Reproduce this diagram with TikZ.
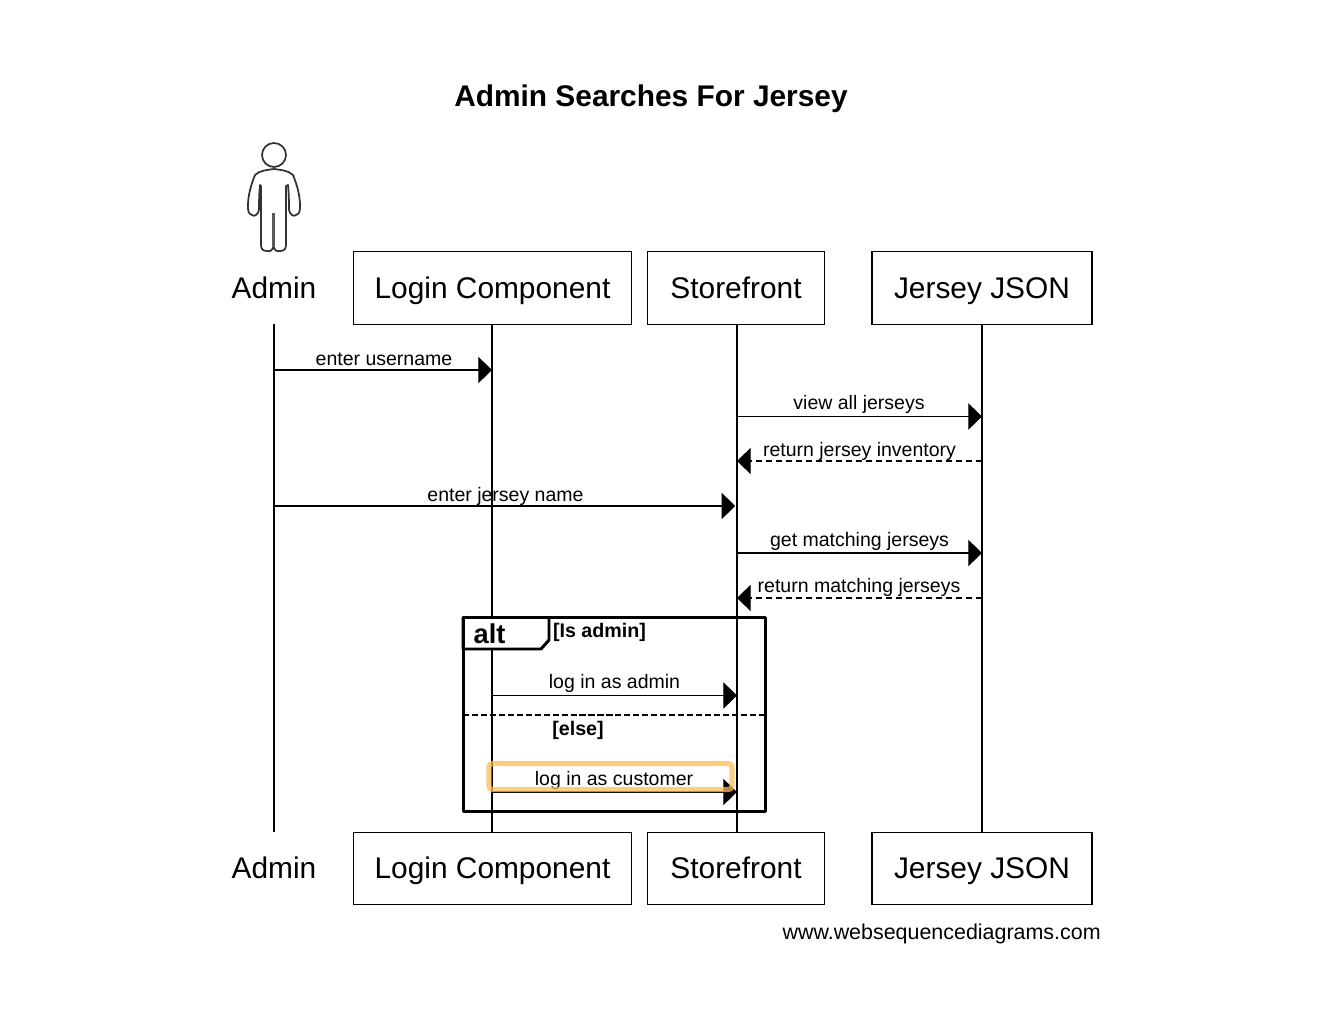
\documentclass[tikz,border=0pt]{standalone}
\usepackage{fontspec}
\setmainfont{Liberation Sans}
\usetikzlibrary{arrows.meta}
\definecolor{hilite}{HTML}{FDBE55}
\tikzset{
  party/.style = {draw, line width=0.7pt, minimum height=41.4pt, inner sep=0pt, text height=13pt, text depth=1.2pt, font=\fontsize{17}{20}\selectfont},
  bare/.style = {inner sep=0pt, text height=13pt, text depth=1.2pt, font=\fontsize{17}{20}\selectfont},
  life/.style = {line width=0.7pt},
  msg/.style = {line width=0.7pt, -{Triangle[length=7.8pt,width=15pt]}},
  back/.style = {msg, dashed, dash pattern=on 3.4pt off 2.3pt},
  lbl/.style = {inner sep=0pt, font=\fontsize{11.1}{13}\selectfont},
  frm/.style = {line width=1.7pt},
  cond/.style = {inner sep=0pt, font=\bfseries\fontsize{11.2}{12}\selectfont}
}
\begin{document}
\begin{tikzpicture}[x=0.02cm, y=-0.02cm]
\useasboundingbox (0,0) rectangle (1322,1020);
\node [inner sep=0pt, font=\bfseries\fontsize{17}{20}\selectfont] (title) at (651,99) {Admin Searches For Jersey};
% actor
\draw [line width=1pt, black!80] (274,155) circle [radius=12];
\draw [line width=1pt, black!80, line join=round] (273.5,246)
  .. controls (273,250) and (270,252) .. (267,251)
  .. controls (263,251) and (261,249) .. (261,245)
  -- (261,186) -- (260,185)
  .. controls (259,195) and (259,205) .. (259,210)
  .. controls (258,215) and (254,217) .. (252,215)
  .. controls (248,214) and (248,210) .. (248,206)
  .. controls (248,195) and (251,185) .. (255,175)
  .. controls (260,170) and (268,170) .. (274,169)
  .. controls (280,170) and (288,170) .. (293,175)
  .. controls (297,185) and (300,195) .. (300,206)
  .. controls (300,210) and (300,214) .. (296,215)
  .. controls (294,217) and (290,215) .. (289,210)
  .. controls (289,205) and (289,195) .. (288,185)
  -- (286,186) -- (286,245)
  .. controls (286,249) and (284,251) .. (280,251)
  .. controls (277,252) and (274,250) .. (273.5,246);
\draw [line width=1.6pt, black!65] (273.5,213) -- (273.5,246);
% top row
\node [bare] (adminT) at (274,288) {Admin};
\node [party, minimum width=158.1pt] (loginT) at (492.5,288) {Login Component};
\node [party, minimum width=100.9pt] (storeT) at (736,288) {Storefront};
\node [party, minimum width=125.3pt] (jerseyT) at (982,288) {Jersey JSON};
% bottom row
\node [bare] (adminB) at (274,868.500) {Admin};
\node [party, minimum width=158.1pt] (loginB) at (492.5,868.500) {Login Component};
\node [party, minimum width=100.9pt] (storeB) at (736,868.500) {Storefront};
\node [party, minimum width=125.3pt] (jerseyB) at (982,868.500) {Jersey JSON};
\coordinate (adminTop) at (274,324.500);
\coordinate (adminEnd) at (274,832);
\coordinate (loginTop) at (492,324.500);
\coordinate (loginEnd) at (492,832);
\coordinate (storeTop) at (737,324.500);
\coordinate (storeEnd) at (737,832);
\coordinate (jerseyTop) at (982,324.500);
\coordinate (jerseyEnd) at (982,832);
\draw [life] (adminTop) -- (adminEnd);
\draw [life] (loginTop) -- (loginEnd);
\draw [life] (storeTop) -- (storeEnd);
\draw [life] (jerseyTop) -- (jerseyEnd);
% messages
\draw [msg] (adminTop |- 0,370) -- (loginTop |- 0,370);
\node [lbl] (m1) at (384,359) {enter username};
\draw [msg] (storeTop |- 0,416.500) -- (jerseyTop |- 0,416.500);
\node [lbl] (m2) at (859,404) {view all jerseys};
\draw [back] (jerseyTop |- 0,461) -- (storeTop |- 0,461);
\node [lbl] (m3) at (859.500,451) {return jersey inventory};
\draw [msg] (adminTop |- 0,506) -- ([xshift=-1pt]storeTop |- 0,506);
\node [lbl] (m4) at (505.500,496) {enter jersey name};
\draw [msg] (storeTop |- 0,553) -- (jerseyTop |- 0,553);
\node [lbl] (m5) at (859.500,541) {get matching jerseys};
\draw [back] (jerseyTop |- 0,598) -- (storeTop |- 0,598);
\node [lbl] (m6) at (859,587.500) {return matching jerseys};
% alt frame
\coordinate (tabA) at (549,617.500);
\coordinate (tabB) at (549,640);
\coordinate (tabC) at (541,649);
\coordinate (tabD) at (463,649);
\coordinate (tabE) at (463,617.500);
\draw [frm, line join=round, fill=white] (tabE) -- (tabA) -- (tabB) -- (tabC) -- (tabD) -- cycle;
\draw [frm, line join=round] (463.500,617.500) rectangle (765.500,811.500);
\node [inner sep=0pt, font=\bfseries\fontsize{15.5}{17}\selectfont] (alt) at (489.500,634) {alt};
\node [cond] (c1) at (599.500,632.500) {[Is admin]};
\coordinate (elseL) at (463,715);
\coordinate (elseR) at (765,715);
\draw [frm, dashed, dash pattern=on 3.5pt off 1.6pt] (elseL) -- (elseR);
\node [cond] (c2) at (578,730) {[else]};
\draw [msg] (loginTop |- 0,695.500) -- (storeTop |- 0,695.500);
\node [lbl] (m7) at (614.500,683) {log in as admin};
\draw [msg] (loginTop |- 0,792) -- (storeTop |- 0,792);
\node [lbl] (m8) at (614,780) {log in as customer};
% highlight
\draw [line width=3pt, rounded corners=2pt, draw=hilite, opacity=0.75] (489,763.500) rectangle (732,789.500);
\node [inner sep=0pt, anchor=east, font=\fontsize{12.2}{14}\selectfont] (credit) at (1101,934) {www.websequencediagrams.com};
\end{tikzpicture}
\end{document}
